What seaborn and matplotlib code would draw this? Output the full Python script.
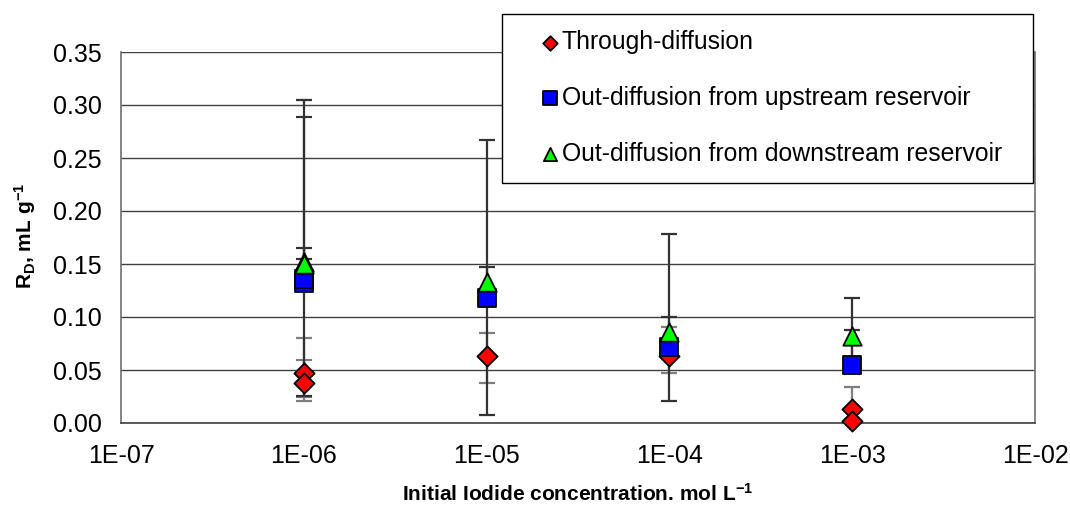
import numpy as np
import pandas as pd
import matplotlib
matplotlib.use("Agg")
import matplotlib.pyplot as plt
from matplotlib.patches import Rectangle
import seaborn as sns

# ---- data -------------------------------------------------------------
# Through-diffusion
td_conc = [1e-6, 1e-6, 1e-5, 1e-4, 1e-3, 1e-3]
td_rd = [0.047, 0.038, 0.063, 0.063, 0.013, 0.002]
td_err_lo = [0.026, 0.013, 0.025, 0.016, 0.013, 0.002]
td_err_hi = [0.033, 0.021, 0.022, 0.028, 0.021, 0.002]

# Out-diffusion from upstream reservoir
up_conc = [1e-6, 1e-6, 1e-5, 1e-4, 1e-3]
up_rd = [0.132, 0.136, 0.118, 0.072, 0.055]
up_err_lo = [0.005, 0.005, 0.005, 0.005, 0.005]
up_err_hi = [0.157, 0.019, 0.029, 0.028, 0.033]

# Out-diffusion from downstream reservoir
dn_conc = [1e-6, 1e-6, 1e-5, 1e-4, 1e-3]
dn_rd = [0.152, 0.150, 0.133, 0.086, 0.082]
dn_err_lo = [0.1265, 0.015, 0.125, 0.065, 0.020]
dn_err_hi = [0.153, 0.015, 0.134, 0.092, 0.036]

series_names = ["Through-diffusion",
                "Out-diffusion from upstream reservoir",
                "Out-diffusion from downstream reservoir"]

x_ticks = [1e-7, 1e-6, 1e-5, 1e-4, 1e-3, 1e-2]
x_tick_labels = ["1E-07", "1E-06", "1E-05", "1E-04", "1E-03", "1E-02"]
y_ticks = [0.00, 0.05, 0.10, 0.15, 0.20, 0.25, 0.30, 0.35]

# ---- style ------------------------------------------------------------
sns.set_style("white")
plt.rcParams["font.family"] = ["Liberation Sans", "DejaVu Sans"]
plt.rcParams["mathtext.default"] = "regular"
plt.rcParams["text.color"] = "black"
plt.rcParams["axes.labelcolor"] = "black"

W, H = 1070, 515
fig = plt.figure(figsize=(W / 100, H / 100), dpi=100)
ax_l, ax_r, ax_t, ax_b = 121, 1035, 52, 423
ax = fig.add_axes([ax_l / W, 1 - ax_b / H, (ax_r - ax_l) / W, (ax_b - ax_t) / H])

styles = [
    dict(marker="D", color="#ff0000", s=105, ecol="#7f7f7f", z=3),
    dict(marker="s", color="#0000ff", s=175, ecol="#333333", z=4),
    dict(marker="^", color="#00ff00", s=175, ecol="#333333", z=5),
]
groups = [
    (td_conc, td_rd, td_err_lo, td_err_hi),
    (up_conc, up_rd, up_err_lo, up_err_hi),
    (dn_conc, dn_rd, dn_err_lo, dn_err_hi),
]

# error bars first, markers on top
for (cx, ry, lo, hi), st in zip(groups, styles):
    ax.errorbar(cx, ry, yerr=[lo, hi], fmt="none", ecolor=st["ecol"],
                elinewidth=1.6, capsize=6, capthick=1.6, zorder=2)

for name, (cx, ry, lo, hi), st in zip(series_names, groups, styles):
    df = pd.DataFrame({"conc": cx, "rd": ry})
    sns.scatterplot(data=df, x="conc", y="rd", ax=ax, marker=st["marker"],
                    color=st["color"], s=st["s"], edgecolor="black",
                    linewidth=1.3, zorder=st["z"], label=name, clip_on=False)

ax.set_xscale("log")
ax.set_xlim(1e-7, 1e-2)
ax.set_ylim(0, 0.35)
ax.set_xticks(x_ticks)
ax.set_xticklabels(x_tick_labels)
ax.xaxis.set_minor_locator(matplotlib.ticker.NullLocator())
ax.set_yticks(y_ticks)
ax.set_yticklabels([f"{v:.2f}" for v in y_ticks])
ax.tick_params(axis="both", labelsize=18, colors="#000000", direction="out")
ax.tick_params(axis="x", length=6, width=1, color="#606060", pad=9)
ax.tick_params(axis="y", length=5, width=1, color="#606060", pad=9)

ax.yaxis.grid(True, color="#404040", linewidth=1.0)
ax.xaxis.grid(False)
ax.set_axisbelow(True)

for side in ["left", "bottom", "right"]:
    ax.spines[side].set_visible(True)
    ax.spines[side].set_color("#707070")
    ax.spines[side].set_linewidth(1.2)
ax.spines["bottom"].set_color("#404040")
ax.spines["top"].set_visible(False)

ax.set_xlabel(r"Initial Iodide concentration. mol L$^{-1}$",
              fontsize=15, fontweight="bold", color="black")
ax.xaxis.set_label_coords(0.5, (ax_b - 483) / (ax_b - ax_t))
ax.set_ylabel(r"R$_{D}$, mL g$^{-1}$", fontsize=15, fontweight="bold",
              color="black")
ax.yaxis.set_label_coords((38 - ax_l) / (ax_r - ax_l), 0.505)

# legend: box drawn as a figure patch, entries as a frameless figure legend
handles, labels = ax.get_legend_handles_labels()
if ax.get_legend() is not None:
    ax.get_legend().remove()
box = Rectangle((502 / W, 1 - 183 / H), 531 / W, 169 / H,
                transform=fig.transFigure, facecolor="white",
                edgecolor="black", linewidth=1.0, zorder=4)
fig.patches.append(box)
leg = fig.legend(handles, labels, loc="upper left",
                 bbox_to_anchor=(543 / W, 1 - 30 / H),
                 fontsize=17.8, frameon=False, markerscale=0.72,
                 labelspacing=1.29, borderpad=0, handletextpad=0.15,
                 handlelength=0.6, borderaxespad=0, labelcolor="black")
leg.set_zorder(5)

fig.savefig("out.png", dpi=100)
